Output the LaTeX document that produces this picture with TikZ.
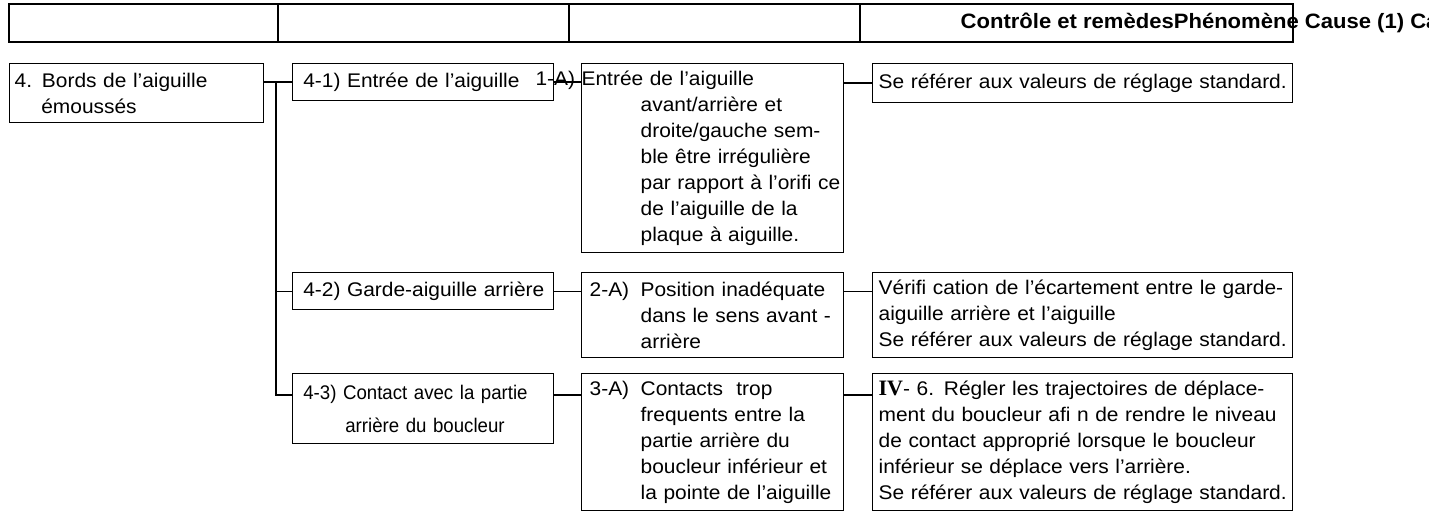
\documentclass[tikz,border=0pt]{standalone}
\usepackage{fontspec}
\setmainfont{Liberation Sans}[FakeStretch=1.06]
\newfontfamily\narrowfont{Liberation Sans}[FakeStretch=0.945]
\newfontfamily\romanfont{Liberation Serif}
\usetikzlibrary{shapes}

\begin{document}
\begin{tikzpicture}[x=0.75pt, y=-0.75pt, line width=1pt]
				\tikzstyle{box}=[draw, anchor=north west, align=left, inner ysep=1pt, font=\fontsize{14.8}{19.5}\selectfont]
				\tikzstyle{link}=[draw]
				\newcommand\XLeft{9}
				\newcommand\XSub{292}
				\newcommand\XCause{581}
				\newcommand\XFix{872}

				\newcommand\YTop{63}
				\newcommand\YTwo{272}
				\newcommand\YThree{373}
				\newcommand\Ind{\hspace*{38.25pt}}

				\useasboundingbox (0,0) rectangle (1429,517);

				% Header row
				\draw (\XLeft,4) rectangle (1293,42);
				\draw (278,4) -- (278,42);
				\draw (569,4) -- (569,42);
				\draw (860,4) -- (860,42);
				\node [anchor=west, inner sep=0pt, font=\bfseries\fontsize{15.6}{18}\selectfont] at (960,23) (head) {Contrôle et remèdesPhénomène Cause (1) Ca};

				% Phenomenon
				\node [box, minimum width=190.5pt, text width=183pt, inner xsep=3.75pt, minimum height=44.25pt] at (\XLeft,\YTop) (bords) {4. Bords de l’aiguille\\\hspace*{20pt}émoussés};

				% Causes (1)
				\node [box, minimum width=195.75pt, text width=184.75pt, inner xsep=5.5pt, minimum height=27.75pt] at (\XSub,\YTop) (e41) {\hspace*{2.5pt}4-1) Entrée de l’aiguille};
				\node [box, minimum width=195.75pt, text width=184.75pt, inner xsep=5.5pt, minimum height=27.75pt] at (\XSub,\YTwo) (g42) {\hspace*{2.5pt}4-2) Garde-aiguille arrière};
				\node [box, minimum width=195.75pt, text width=184.75pt, inner xsep=5.5pt, minimum height=52.5pt, font=\narrowfont\fontsize{14.8}{24.75}\selectfont] at (\XSub,\YThree) (c43) {\hspace*{2.5pt}4-3) Contact avec la partie\\\hspace*{34pt}arrière du boucleur};

				% Causes (2)
				\node [box, minimum width=196.5pt, text width=196.5pt, inner xsep=0pt, minimum height=141.75pt] at (\XCause,\YTop) (c1A) {\llap{1-A)\ }Entrée de l’aiguille\\\hspace*{44.25pt}avant/arrière et\\\hspace*{44.25pt}droite/gauche sem-\\\hspace*{44.25pt}ble être irrégulière\\\hspace*{44.25pt}par rapport à l’orifi ce\\\hspace*{44.25pt}de l’aiguille de la\\\hspace*{44.25pt}plaque à aiguille.};
				\node [box, minimum width=196.5pt, text width=184.5pt, inner xsep=6pt, minimum height=63.75pt] at (\XCause,\YTwo) (c2A) {\makebox[38.25pt][l]{2-A)}Position inadéquate\\\Ind dans le sens avant -\\\Ind arrière};
				\node [box, minimum width=196.5pt, text width=184.5pt, inner xsep=6pt, minimum height=102.75pt] at (\XCause,\YThree) (c3A) {\makebox[38.25pt][l]{3-A)}Contacts\ \ trop\\\Ind frequents entre la\\\Ind partie arrière du\\\Ind boucleur inférieur et\\\Ind la pointe de l’aiguille};

				% Checks and remedies
				\node [box, minimum width=315pt, text width=309pt, inner xsep=3pt, minimum height=29.25pt] at (\XFix,\YTop) (r1) {\hspace*{1.5pt}Se référer aux valeurs de réglage standard.};
				\node [box, minimum width=315pt, text width=309pt, inner xsep=3pt, minimum height=63.75pt] at (\XFix,\YTwo) (r2) {\hspace*{1.5pt}Vérifi cation de l’écartement entre le garde-\\\hspace*{1.5pt}aiguille arrière et l’aiguille\\\hspace*{1.5pt}Se référer aux valeurs de réglage standard.};
				\node [box, minimum width=315pt, text width=309pt, inner xsep=3pt, minimum height=102.75pt] at (\XFix,\YThree) (r3) {\hspace*{1.5pt}{\romanfont\bfseries\fontsize{16.5}{19.5}\selectfont IV}- 6. Régler les trajectoires de déplace-\\\hspace*{1.5pt}ment du boucleur afi n de rendre le niveau\\\hspace*{1.5pt}de contact approprié lorsque le boucleur\\\hspace*{1.5pt}inférieur se déplace vers l’arrière.\\\hspace*{1.5pt}Se référer aux valeurs de réglage standard.};

				% Tree lines
				\coordinate (trunk) at (276,81.5);
				\path [link] (bords.east |- e41.west) -- (e41.west);
				\path [link] (trunk) |- (g42.west);
				\path [link] (trunk) |- ([yshift=-16.5pt]c43.north west);

				% Row links
				\path [link] (e41.east) -- (e41.east -| c1A.west);
				\path [link] (c1A.east |- r1.west) -- (r1.west);
				\path [link] (g42.east) -- (g42.east -| c2A.west);
				\path [link] (c2A.east |- g42.east) -- (r2.west |- g42.east);
				\path [link] ([yshift=-16.5pt]c43.north east) -- ([yshift=-16.5pt]c3A.north west);
				\path [link] ([yshift=-16.5pt]c3A.north east) -- ([yshift=-16.5pt]r3.north west);

\end{tikzpicture}
\end{document}
